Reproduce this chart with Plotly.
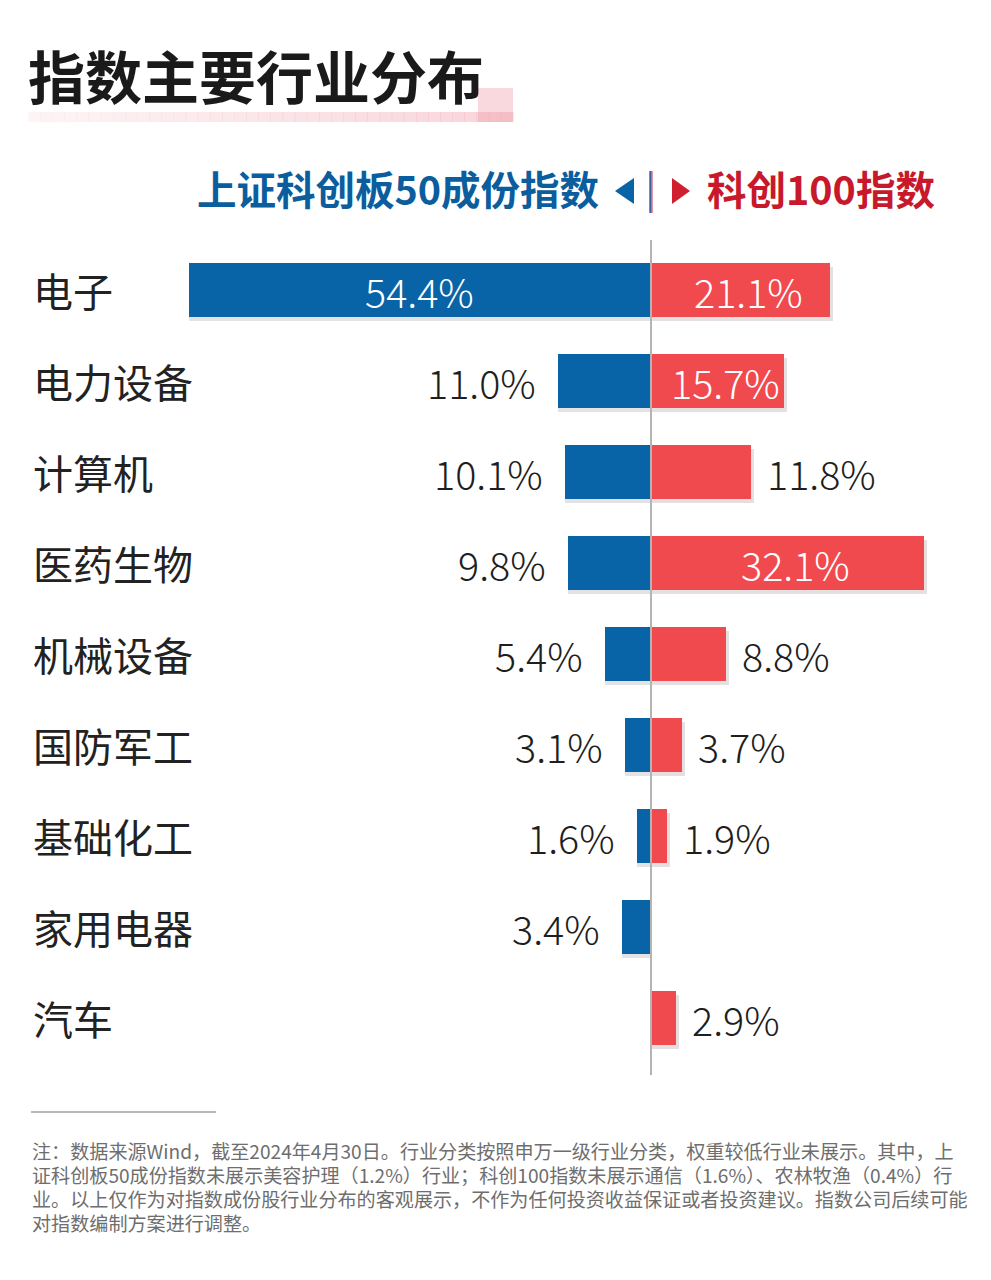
import plotly.graph_objects as go

# ---------------- data ----------------
categories = ["电子", "电力设备", "计算机", "医药生物", "机械设备", "国防军工", "基础化工", "家用电器", "汽车"]
sse50_values = [54.4, 11.0, 10.1, 9.8, 5.4, 3.1, 1.6, 3.4, None]      # 上证科创板50成份指数
star100_values = [21.1, 15.7, 11.8, 32.1, 8.8, 3.7, 1.9, None, 2.9]    # 科创100指数
left_name = "上证科创板50成份指数"
right_name = "科创100指数"
title_text = "指数主要行业分布"
note_lines = [
    "注：数据来源Wind，截至2024年4月30日。行业分类按照申万一级行业分类，权重较低行业未展示。其中，上",
    "证科创板50成份指数未展示美容护理（1.2%）行业；科创100指数未展示通信（1.6%）、农林牧渔（0.4%）行",
    "业。以上仅作为对指数成份股行业分布的客观展示，不作为任何投资收益保证或者投资建议。指数公司后续可能",
    "对指数编制方案进行调整。",
]

# ---------------- layout constants ----------------
OFF = 8                      # page body margin offset
W, H = 991 - OFF, 1280 - OFF
PLOT_TOP, PLOT_BOT = 240, 1075   # in reference pixels
ZERO_PX, PX_PER_UNIT = 651, 8.5
ROW_PX = 91
FIRST_ROW_PX = 290
BLUE = "#0863A7"
RED = "#F04A4F"
BLUE_TXT = "#0B5E9E"
RED_TXT = "#C8192C"
CJK = "Noto Sans CJK SC"

def px(x):
    return (x - OFF) / W

def py(y):
    return (PLOT_BOT - y) / (PLOT_BOT - PLOT_TOP)

x_min = -(ZERO_PX - OFF) / PX_PER_UNIT
x_max = (W - (ZERO_PX - OFF)) / PX_PER_UNIT
y_top = -(FIRST_ROW_PX - PLOT_TOP) / ROW_PX
y_bot = (PLOT_BOT - FIRST_ROW_PX) / ROW_PX

idx = list(range(len(categories)))
bar_w = 0.6
shadow_dy = 4 / ROW_PX

fig = go.Figure()

neg_left = [(-v if v is not None else None) for v in sse50_values]

# soft shadows
fig.add_trace(go.Bar(y=idx, x=neg_left, orientation="h", width=bar_w,
                     offset=-bar_w / 2 + shadow_dy,
                     marker=dict(color="rgba(70,50,70,0.14)", line=dict(width=0)),
                     hoverinfo="skip", showlegend=False))
fig.add_trace(go.Bar(y=idx, x=[(v + 0.35 if v is not None else None) for v in star100_values],
                     orientation="h", width=bar_w, offset=-bar_w / 2 + shadow_dy,
                     marker=dict(color="rgba(90,40,50,0.15)", line=dict(width=0)),
                     hoverinfo="skip", showlegend=False))

fig.add_trace(go.Bar(y=idx, x=neg_left, orientation="h", width=bar_w,
                     offset=-bar_w / 2,
                     marker=dict(color=BLUE, line=dict(width=0)), name=left_name,
                     showlegend=False))
fig.add_trace(go.Bar(y=idx, x=star100_values, orientation="h", width=bar_w,
                     offset=-bar_w / 2,
                     marker=dict(color=RED, line=dict(width=0)), name=right_name,
                     showlegend=False))

annotations = []
val_font = dict(family=CJK, size=39.5, weight=300)
for i, v in enumerate(sse50_values):
    if v is None:
        continue
    if v > 30:
        annotations.append(dict(x=-v / 2, y=i, xref="x", yref="y", text=f"{v:.1f}%",
                                showarrow=False, xanchor="center", yanchor="middle",
                                font=dict(val_font, color="white")))
    else:
        annotations.append(dict(x=-v, y=i, xref="x", yref="y", text=f"{v:.1f}%",
                                showarrow=False, xanchor="right", yanchor="middle", xshift=-20,
                                font=dict(val_font, color="#1e1e1e")))
for i, v in enumerate(star100_values):
    if v is None:
        continue
    if v > 15:
        annotations.append(dict(x=v / 2, y=i, xref="x", yref="y", text=f"{v:.1f}%",
                                showarrow=False, xanchor="center", yanchor="middle", xshift=8,
                                font=dict(val_font, color="white")))
    else:
        annotations.append(dict(x=v, y=i, xref="x", yref="y", text=f"{v:.1f}%",
                                showarrow=False, xanchor="left", yanchor="middle", xshift=14,
                                font=dict(val_font, color="#1e1e1e")))

# category labels
for i, c in enumerate(categories):
    annotations.append(dict(x=px(31), y=i, xref="paper", yref="y", text=c, showarrow=False,
                            xanchor="left", yanchor="middle",
                            font=dict(family=CJK, size=40, color="#222222")))

# title
annotations.append(dict(x=px(26), y=py(74), xref="paper", yref="paper", text=f"<b>{title_text}</b>",
                        showarrow=False, xanchor="left", yanchor="middle",
                        font=dict(family=CJK, size=57, color="#1a1a1a", weight=900)))
# headers
annotations.append(dict(x=px(601), y=py(187), xref="paper", yref="paper", text=f"<b>{left_name}</b>",
                        showarrow=False, xanchor="right", yanchor="middle",
                        font=dict(family=CJK, size=39.5, color=BLUE_TXT)))
annotations.append(dict(x=px(705), y=py(187), xref="paper", yref="paper", text=f"<b>{right_name}</b>",
                        showarrow=False, xanchor="left", yanchor="middle",
                        font=dict(family=CJK, size=39.5, color=RED_TXT)))
# footnote lines
for k, line in enumerate(note_lines):
    annotations.append(dict(x=px(30), y=py(1151 + 24 * k), xref="paper", yref="paper",
                            text=line, showarrow=False, align="left", height=22,
                            xanchor="left", yanchor="middle", valign="middle",
                            font=dict(family=CJK, size=19.1, color="#6e6e6e")))

shapes = []
# title highlight band (gradient made of thin slices)
n = 40
x0, x1 = 28, 513
for k in range(n):
    a = 0.10 + 0.30 * k / (n - 1)
    sx0 = x0 + (x1 - x0) * k / n
    sx1 = x0 + (x1 - x0) * (k + 1) / n + 0.5
    shapes.append(dict(type="rect", xref="paper", yref="paper", x0=px(sx0), x1=px(sx1),
                       y0=py(122), y1=py(112), fillcolor=f"rgba(238,150,162,{a:.3f})",
                       line=dict(width=0), layer="below"))
shapes.append(dict(type="rect", xref="paper", yref="paper", x0=px(478), x1=px(513),
                   y0=py(122), y1=py(88), fillcolor="rgba(238,150,162,0.36)",
                   line=dict(width=0), layer="below"))
# header arrows and divider
shapes.append(dict(type="path", xref="paper", yref="paper",
                   path=f"M {px(615)} {py(191)} L {px(634)} {py(178)} L {px(634)} {py(204)} Z",
                   fillcolor=BLUE, line=dict(width=0)))
shapes.append(dict(type="path", xref="paper", yref="paper",
                   path=f"M {px(690)} {py(191)} L {px(672)} {py(178)} L {px(672)} {py(204)} Z",
                   fillcolor="#D0202F", line=dict(width=0)))
shapes.append(dict(type="rect", xref="paper", yref="paper", x0=px(649.3), x1=px(651),
                   y0=py(213), y1=py(171), fillcolor="#3D5FA0", line=dict(width=0)))
shapes.append(dict(type="rect", xref="paper", yref="paper", x0=px(651), x1=px(652.7),
                   y0=py(213), y1=py(171), fillcolor="#D66A7A", line=dict(width=0)))
# central axis line
shapes.append(dict(type="line", xref="x", yref="paper", x0=0, x1=0, y0=0, y1=1,
                   line=dict(color="#b4b4b4", width=2), layer="above"))
# footnote rule
shapes.append(dict(type="line", xref="paper", yref="paper", x0=px(31), x1=px(216),
                   y0=py(1112), y1=py(1112), line=dict(color="#a0a0a0", width=1.5)))

fig.update_layout(
    width=W, height=H,
    margin=dict(l=0, r=0, t=PLOT_TOP - OFF, b=H - (PLOT_BOT - OFF), pad=0),
    paper_bgcolor="white", plot_bgcolor="white",
    barmode="overlay", bargap=0,
    xaxis=dict(range=[x_min, x_max], visible=False, fixedrange=True),
    yaxis=dict(range=[y_bot, y_top], visible=False, fixedrange=True),
    annotations=annotations, shapes=shapes,
    showlegend=False,
)

fig.write_html("out.html")
